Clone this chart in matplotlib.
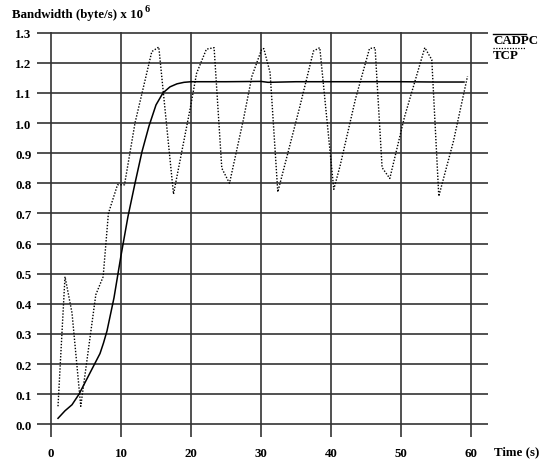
import matplotlib
matplotlib.use('Agg')
import matplotlib.pyplot as plt
from matplotlib.lines import Line2D

plt.rcParams['font.family'] = ['Liberation Serif', 'DejaVu Serif']
plt.rcParams['font.weight'] = 'bold'

# CADPC (solid line)
cadpc_t = [1, 2, 3, 4, 5, 6, 7, 7.5, 8, 9, 10, 11, 12, 13, 14, 15, 16, 17, 18, 19,
           20, 25, 30, 31, 35, 40, 45, 50, 55, 59]
cadpc_bw = [0.02, 0.045, 0.065, 0.10, 0.145, 0.19, 0.235, 0.27, 0.31, 0.42, 0.56,
            0.69, 0.80, 0.905, 0.99, 1.06, 1.10, 1.12, 1.13, 1.135,
            1.137, 1.137, 1.138, 1.135, 1.137, 1.137, 1.137, 1.137, 1.136, 1.136]

# TCP (dotted line)
tcp_t = [1, 2, 3, 4.25, 6.4, 7.45, 8.2, 9.5, 10.5, 12, 14.4, 15.4, 17.5, 19.9, 20.8,
         22.2, 23.3, 24.4, 25.5, 27.5, 28.7, 30.1, 30.4, 31.3, 32.4, 35.5, 37.5, 38.4,
         40.4, 41.3, 43.5, 45.5, 46.3, 47.3, 48.4, 50.5, 53.4, 54.4, 55.4, 57.5, 59.5]
tcp_bw = [0.06, 0.49, 0.37, 0.06, 0.43, 0.49, 0.70, 0.795, 0.795, 1.0, 1.237, 1.252,
          0.764, 1.05, 1.165, 1.245, 1.25, 0.85, 0.80, 1.013, 1.155, 1.245, 1.247,
          1.167, 0.771, 1.05, 1.239, 1.25, 0.78, 0.858, 1.08, 1.247, 1.25, 0.852,
          0.816, 1.02, 1.25, 1.21, 0.757, 0.94, 1.155]

x_ticks = [0, 10, 20, 30, 40, 50, 60]
y_ticks = [0.0, 0.1, 0.2, 0.3, 0.4, 0.5, 0.6, 0.7, 0.8, 0.9, 1.0, 1.1, 1.2, 1.3]

fs = 9.3

fig = plt.figure(figsize=(5.48, 4.60), dpi=100)
ax = fig.add_axes([37 / 548, 1 - 438 / 460, (488 - 37) / 548, (438 - 33) / 460])

ax.plot(cadpc_t, cadpc_bw, color='black', linewidth=1.1, linestyle='-')
ax.plot(tcp_t, tcp_bw, color='black', linewidth=1.0, linestyle=(0, (1, 1.2)))

ax.set_xlim(-2, 62.43)
ax.set_ylim(-0.042, 1.302)
ax.set_xticks(x_ticks)
ax.set_yticks(y_ticks)
ax.set_xticklabels([str(v) for v in x_ticks])
ax.set_yticklabels(['%.1f' % v for v in y_ticks])
ax.grid(True, color='0.2', linewidth=1.2)
ax.set_axisbelow(True)
for s in ax.spines.values():
    s.set_visible(False)
ax.tick_params(length=0, labelsize=fs)
ax.tick_params(axis='y', pad=4)
ax.tick_params(axis='x', pad=7)

# axis titles
fig.text(12 / 548, 1 - 15 / 460, 'Bandwidth (byte/s) x 10',
         fontsize=fs, fontweight='bold', va='center', ha='left')
fig.text(145 / 548, 1 - 9 / 460, '6', fontsize=7.5, fontweight='bold',
         va='center', ha='left')
fig.text(494 / 548, 1 - 452 / 460, 'Time (s)', fontsize=fs, fontweight='bold',
         va='center', ha='left')

# legend in the top right corner
fig.text(493 / 548, 1 - 41 / 460, 'CADPC', fontsize=fs, fontweight='bold',
         va='center', ha='left')
fig.text(493 / 548, 1 - 56 / 460, 'TCP', fontsize=fs, fontweight='bold',
         va='center', ha='left')
fig.add_artist(Line2D([493 / 548, 526 / 548], [1 - 35 / 460, 1 - 35 / 460],
                      color='black', linewidth=1.0, transform=fig.transFigure))
fig.add_artist(Line2D([493 / 548, 526 / 548], [1 - 49 / 460, 1 - 49 / 460],
                      color='black', linewidth=0.9, linestyle=(0, (1, 1.2)),
                      transform=fig.transFigure))

fig.savefig('out.png', dpi=100)
